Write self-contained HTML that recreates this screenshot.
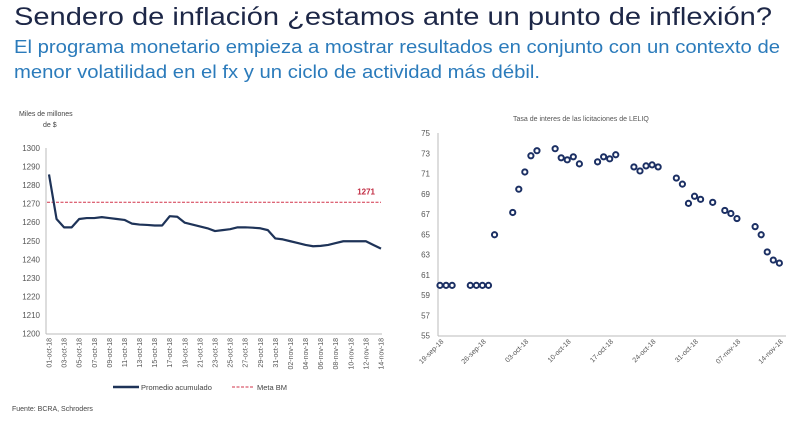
<!DOCTYPE html>
<html><head><meta charset="utf-8"><style>
body{margin:0;background:#fff;width:800px;height:422px;overflow:hidden}
svg{display:block;font-family:"Liberation Sans",sans-serif}
</style></head><body>
<svg id="s" width="800" height="422">
<text x="14" y="25" font-size="25" fill="#1d2747" textLength="758" lengthAdjust="spacingAndGlyphs">Sendero de inflación ¿estamos ante  un punto de inflexión?</text>
<text x="14" y="53" font-size="18" fill="#2b7bbb" textLength="766" lengthAdjust="spacingAndGlyphs">El programa monetario empieza a mostrar resultados en conjunto con un contexto de</text>
<text x="14" y="78" font-size="18" fill="#2b7bbb" textLength="526" lengthAdjust="spacingAndGlyphs">menor volatilidad en el fx y un ciclo de actividad más débil.</text>
<text x="19" y="116" font-size="7" fill="#444">Miles de millones</text>
<text x="43" y="127" font-size="7" fill="#444">de $</text>
<text x="513" y="121" font-size="7" fill="#555">Tasa de interes de las licitaciones de LELIQ</text>
<text x="12" y="411" font-size="7" fill="#444">Fuente: BCRA, Schroders</text>
<g id="L"></g><g id="R"></g>
</svg>
<script>
const NS="http://www.w3.org/2000/svg";
function mk(p,t,a){const e=document.createElementNS(NS,t);for(const k in a)e.setAttribute(k,a[k]);p.appendChild(e);return e;}
// Left chart data
const leftYTicks=[1200,1210,1220,1230,1240,1250,1260,1270,1280,1290,1300];
const leftDates=["01-oct-18","03-oct-18","05-oct-18","07-oct-18","09-oct-18","11-oct-18","13-oct-18","15-oct-18","17-oct-18","19-oct-18","21-oct-18","23-oct-18","25-oct-18","27-oct-18","29-oct-18","31-oct-18","02-nov-18","04-nov-18","06-nov-18","08-nov-18","10-nov-18","12-nov-18","14-nov-18"];
const promedio=[1286,1262,1257.5,1257.5,1262,1262.5,1262.5,1263,1262.5,1262,1261.5,1259.5,1259,1258.8,1258.5,1258.5,1263.5,1263.2,1260,1259,1258,1257,1255.5,1256,1256.5,1257.5,1257.5,1257.3,1257,1256,1251.5,1251,1250,1249,1248,1247.3,1247.5,1248,1249,1250,1250,1250,1250,1248,1246];
const meta=1271;
const L=document.getElementById('L');
const lx=i=>49+i*(381-49)/44, ly=v=>334-(v-1200)*(334-148.5)/100;
mk(L,'line',{x1:46,y1:148,x2:46,y2:334,stroke:'#bbb','stroke-width':1});
mk(L,'line',{x1:46,y1:334,x2:382,y2:334,stroke:'#bbb','stroke-width':1});
leftYTicks.forEach(v=>{const t=mk(L,'text',{x:40,y:ly(v)+2.5,'font-size':8,fill:'#555','text-anchor':'end'});t.textContent=v;

});
leftDates.forEach((d,k)=>{const x=lx(k*2);const t=mk(L,'text',{x:0,y:0,'font-size':7,fill:'#555','text-anchor':'end',transform:`translate(${x+2.5},338) rotate(-90)`});t.textContent=d;

});
const ml=mk(L,'line',{x1:47,y1:ly(meta),x2:381,y2:ly(meta),stroke:'#d2334a','stroke-width':1,'stroke-dasharray':'3,1.5'});


const mt=mk(L,'text',{x:375,y:ly(meta)-8,'font-size':8,fill:'#c0283f','font-weight':'bold','text-anchor':'end'});mt.textContent=meta;


const pl=mk(L,'polyline',{points:promedio.map((v,i)=>lx(i)+','+ly(v)).join(' '),fill:'none',stroke:'#1e3358','stroke-width':2.2,'stroke-linejoin':'round'});


const lg1=mk(L,'line',{x1:113,y1:387,x2:139,y2:387,stroke:'#1e3358','stroke-width':2.5});


const lt1=mk(L,'text',{x:141,y:390,'font-size':7.5,fill:'#444'});lt1.textContent='Promedio acumulado';


const lg2=mk(L,'line',{x1:232,y1:387,x2:253,y2:387,stroke:'#d2334a','stroke-width':1,'stroke-dasharray':'3,1.5'});


const lt2=mk(L,'text',{x:257,y:390,'font-size':7.5,fill:'#444'});lt2.textContent='Meta BM';


// Right chart data
const rightYTicks=[55,57,59,61,63,65,67,69,71,73,75];
const rightXLabels=["19-sep-18","26-sep-18","03-oct-18","10-oct-18","17-oct-18","24-oct-18","31-oct-18","07-nov-18","14-nov-18"];
const leliqDay=[0,1,2,5,6,7,8,9,12,13,14,15,16,19,20,21,22,23,26,27,28,29,32,33,34,35,36,39,40,41,42,43,45,47,48,49,52,53,54,55,56];
const leliqRate=[60,60,60,60,60,60,60,65,67.2,69.5,71.2,72.8,73.3,73.5,72.6,72.4,72.7,72,72.2,72.7,72.5,72.9,71.7,71.3,71.8,71.9,71.7,70.6,70,68.1,68.8,68.5,68.2,67.4,67.1,66.6,65.8,65,63.3,62.5,62.2];
const R=document.getElementById('R');
const rx=d=>440+d*6.06, ry=v=>336-(v-55)*(336-133.5)/20;
mk(R,'line',{x1:438,y1:133,x2:438,y2:336,stroke:'#bbb'});
mk(R,'line',{x1:438,y1:336,x2:786,y2:336,stroke:'#bbb'});
rightYTicks.forEach(v=>{const t=mk(R,'text',{x:430,y:ry(v)+2.5,'font-size':8,fill:'#555','text-anchor':'end'});t.textContent=v;

});
rightXLabels.forEach((d,k)=>{const x=rx(k*7);const t=mk(R,'text',{x:0,y:0,'font-size':7,fill:'#555','text-anchor':'end',transform:`translate(${x+4},342) rotate(-45)`});t.textContent=d;

});
leliqDay.forEach((d,i)=>{const c=mk(R,'circle',{cx:rx(d),cy:ry(leliqRate[i]),r:2.6,fill:'none',stroke:'#1b2f63','stroke-width':2});

});
</script>
</body></html>
